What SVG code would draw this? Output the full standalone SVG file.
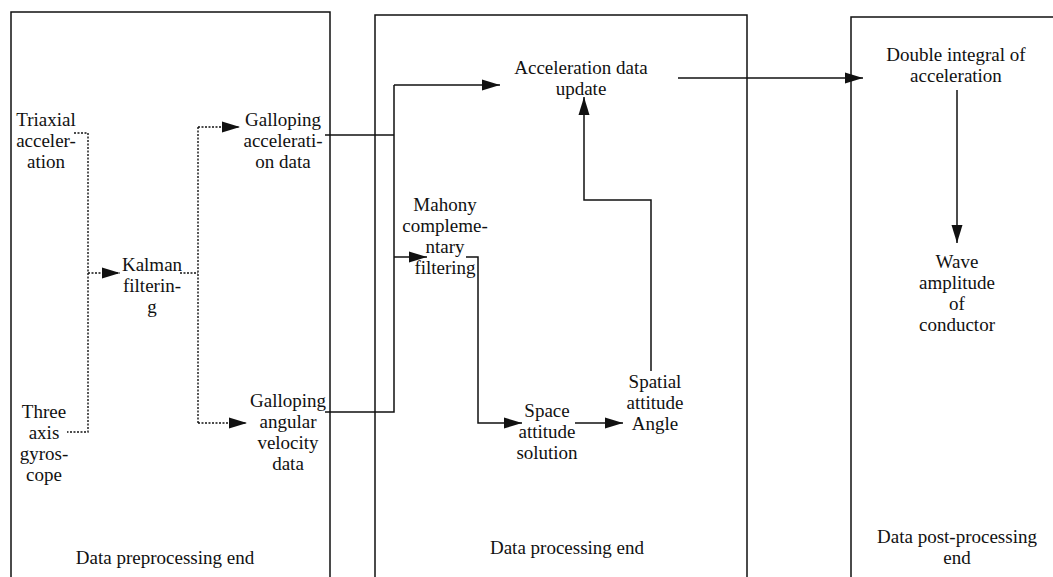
<svg xmlns="http://www.w3.org/2000/svg" width="1053" height="577" viewBox="0 0 1053 577">
<style>
.t{font-family:"Liberation Serif","Times New Roman",serif;font-size:19px;fill:#111;text-anchor:middle}
.b{fill:none;stroke:#111;stroke-width:1.5}
.s{fill:none;stroke:#111;stroke-width:1.5}
.d{fill:none;stroke:#111;stroke-width:1.4;stroke-dasharray:2 1.5}
</style>
<defs>
<marker id="ah" markerUnits="userSpaceOnUse" markerWidth="18" markerHeight="12" refX="18" refY="6" orient="auto">
<path d="M0,0.5 L18,6 L0,11.5 z" fill="#111"/>
</marker>
</defs>
<rect width="1053" height="577" fill="#fff"/>
<g id="frames">
<path class="b" d="M11,577 V12 H330 V577"/>
<path class="b" d="M375,577 V15 H747 V577"/>
<path class="b" d="M851,577 V17 H1053"/>
</g>
<g id="connectors">
<path class="d" d="M74,133 H88 V432 H67"/>
<path class="d" d="M88,273 H120" marker-end="url(#ah)"/>
<path class="d" d="M180,273 H198"/>
<path class="d" d="M198,127 V423"/>
<path class="d" d="M198,127 H240" marker-end="url(#ah)"/>
<path class="d" d="M198,423 H247" marker-end="url(#ah)"/>
<path class="s" d="M325,135 H394"/>
<path class="s" d="M325,412 H394 V85"/>
<path class="s" d="M394,85 H500" marker-end="url(#ah)"/>
<path class="s" d="M394,257 H427" marker-end="url(#ah)"/>
<path class="s" d="M466,257 H478 V423 H522" marker-end="url(#ah)"/>
<path class="s" d="M575,423 H623" marker-end="url(#ah)"/>
<path class="s" d="M651,371 V200 H584 V97" marker-end="url(#ah)"/>
<path class="s" d="M678,78 H863" marker-end="url(#ah)"/>
<path class="s" d="M957,90 V243" marker-end="url(#ah)"/>
</g>
<g id="triaxial"><text class="t"><tspan x="46" y="126">Triaxial</tspan><tspan x="46" y="147">acceler-</tspan><tspan x="46" y="168">ation</tspan></text></g>
<g id="gyro"><text class="t"><tspan x="44" y="418">Three</tspan><tspan x="44" y="439">axis</tspan><tspan x="44" y="460">gyros-</tspan><tspan x="44" y="481">cope</tspan></text></g>
<g id="kalman"><text class="t"><tspan x="152" y="271">Kalman</tspan><tspan x="152" y="292">filterin-</tspan><tspan x="152" y="313">g</tspan></text></g>
<g id="gacc"><text class="t"><tspan x="283" y="126">Galloping</tspan><tspan x="283" y="147">accelerati-</tspan><tspan x="283" y="168">on data</tspan></text></g>
<g id="gang"><text class="t"><tspan x="288" y="407">Galloping</tspan><tspan x="288" y="428">angular</tspan><tspan x="288" y="449">velocity</tspan><tspan x="288" y="470">data</tspan></text></g>
<g id="mahony"><text class="t"><tspan x="445" y="211">Mahony</tspan><tspan x="445" y="232">compleme-</tspan><tspan x="445" y="253">ntary</tspan><tspan x="445" y="274">filtering</tspan></text></g>
<g id="accupd"><text class="t"><tspan x="581" y="74">Acceleration data</tspan><tspan x="581" y="95">update</tspan></text></g>
<g id="space"><text class="t"><tspan x="547" y="417">Space</tspan><tspan x="547" y="438">attitude</tspan><tspan x="547" y="459">solution</tspan></text></g>
<g id="spatial"><text class="t"><tspan x="655" y="388">Spatial</tspan><tspan x="655" y="409">attitude</tspan><tspan x="655" y="430">Angle</tspan></text></g>
<g id="double"><text class="t"><tspan x="956" y="61">Double integral of</tspan><tspan x="956" y="82">acceleration</tspan></text></g>
<g id="wave"><text class="t"><tspan x="957" y="268">Wave</tspan><tspan x="957" y="289">amplitude</tspan><tspan x="957" y="310">of</tspan><tspan x="957" y="331">conductor</tspan></text></g>
<g id="lbl1"><text class="t" x="165" y="564">Data preprocessing end</text></g>
<g id="lbl2"><text class="t" x="567" y="554">Data processing end</text></g>
<g id="lbl3"><text class="t"><tspan x="957" y="543">Data post-processing</tspan><tspan x="957" y="564">end</tspan></text></g>
</svg>
